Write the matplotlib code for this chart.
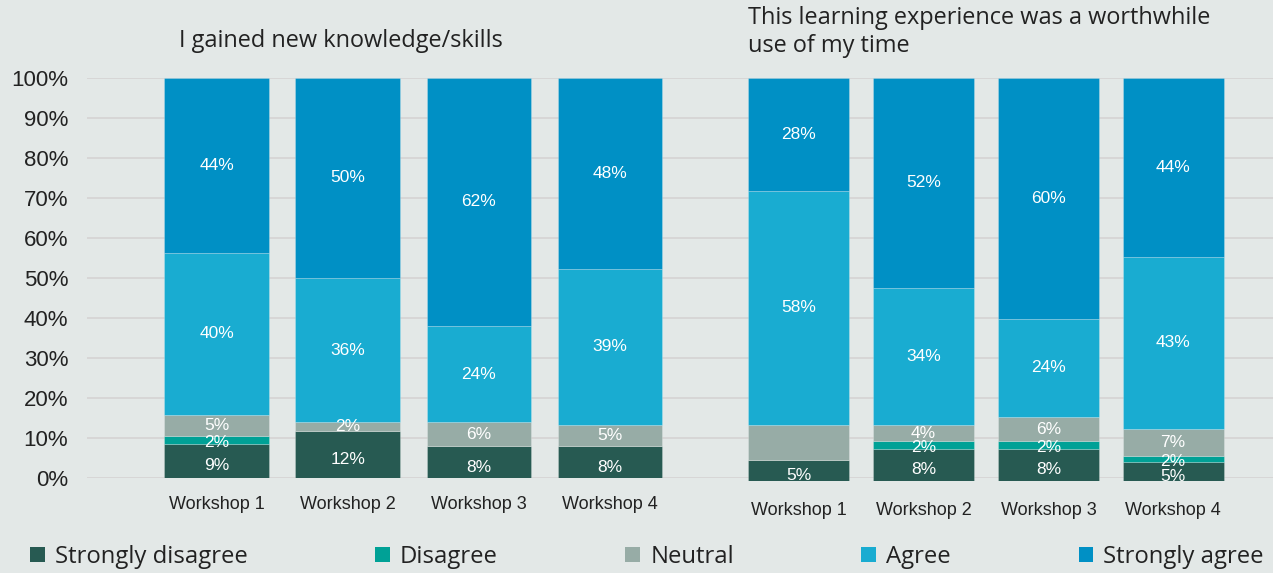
import matplotlib
matplotlib.use("Agg")
import matplotlib.pyplot as plt
from matplotlib.patches import Patch
import numpy as np

# ---------------- data ----------------
workshops = ["Workshop 1", "Workshop 2", "Workshop 3", "Workshop 4"]
series_names = ["Strongly disagree", "Disagree", "Neutral", "Agree", "Strongly agree"]

title_left = "I gained new knowledge/skills"
title_right = "This learning experience was a worthwhile\nuse of my time"

# Panel 1: I gained new knowledge/skills (%)
k_sd = [8.6, 11.8, 7.9, 7.9]
k_d = [2.0, 0.0, 0.0, 0.0]
k_n = [5.2, 2.1, 6.0, 5.4]
k_a = [40.5, 36.1, 24.1, 39.0]
k_sa = [43.7, 50.0, 62.0, 47.7]
k_labels_sd = ["9%", "12%", "8%", "8%"]
k_labels_d = ["2%", "", "", ""]
k_labels_n = ["5%", "2%", "6%", "5%"]
k_labels_a = ["40%", "36%", "24%", "39%"]
k_labels_sa = ["44%", "50%", "62%", "48%"]

# Panel 2: worthwhile use of my time (%)
w_sd = [5.2, 7.9, 7.9, 4.7]
w_d = [0.0, 2.0, 2.0, 1.5]
w_n = [8.7, 4.0, 6.0, 6.7]
w_a = [58.1, 34.0, 24.3, 42.7]
w_sa = [28.0, 52.1, 59.8, 44.4]
w_labels_sd = ["5%", "8%", "8%", "5%"]
w_labels_d = ["", "2%", "2%", "2%"]
w_labels_n = ["", "4%", "6%", "7%"]
w_labels_a = ["58%", "34%", "24%", "43%"]
w_labels_sa = ["28%", "52%", "60%", "44%"]

y_ticks = [0, 10, 20, 30, 40, 50, 60, 70, 80, 90, 100]
y_ticklabels = [f"{t}%" for t in y_ticks]

# ---------------- style ----------------
colors = ["#275a52", "#00a196", "#97aca6", "#19acd1", "#0090c5"]
bg = "#e3e8e7"
grid_c = "#d6d5d5"
text_c = "#222222"
label_offsets = [-3.5, -2.0, 0, 0, 0]  # vertical nudge (points) of in-bar labels per series

W, H = 1273, 573
fig = plt.figure(figsize=(W / 100, H / 100), dpi=100, facecolor=bg)

def fx(px):
    return px / W

def fy(py):
    return 1 - py / H

# background axis with gridlines + y tick labels (left scale: 0 at 478px, 100 at 78px)
ax_bg = fig.add_axes([fx(87), fy(478), fx(W - 87), fy(78) - fy(478)])
ax_bg.set_facecolor("none")
ax_bg.set_ylim(0, 100)
ax_bg.set_xlim(0, 1)
ax_bg.set_yticks(y_ticks)
ax_bg.set_yticklabels(y_ticklabels, fontsize=16, color=text_c, family="Liberation Sans")
ax_bg.tick_params(axis="y", length=0, pad=13.5)
ax_bg.set_xticks([])
for s in ax_bg.spines.values():
    s.set_visible(False)
ax_bg.grid(axis="y", color=grid_c, linewidth=1.3)
ax_bg.set_axisbelow(True)

def draw_panel(ax, series, labels, width):
    x = np.arange(len(workshops))
    bottom = np.zeros(len(workshops))
    for vals, labs, col, off in zip(series, labels, colors, label_offsets):
        vals = np.array(vals)
        bars = ax.bar(x, vals, width, bottom=bottom, color=col,
                      edgecolor=(1, 1, 1, 0.25), linewidth=0.6)
        anns = ax.bar_label(bars, labels=labs, label_type="center", color="white",
                            fontsize=12.5, family="Liberation Sans")
        for a in anns:
            a.xyann = (0, off)
        bottom += vals
    ax.set_ylim(0, 100)
    ax.set_xticks(x)
    ax.set_xticklabels(workshops, fontsize=13, color=text_c, family="Liberation Sans")
    ax.set_yticks([])
    ax.set_facecolor("none")
    for s in ax.spines.values():
        s.set_visible(False)

# left panel
ax1 = fig.add_axes([fx(87), fy(478), fx(690 - 87), fy(78) - fy(478)])
draw_panel(ax1, [k_sd, k_d, k_n, k_a, k_sa],
           [k_labels_sd, k_labels_d, k_labels_n, k_labels_a, k_labels_sa], 0.8)
ax1.set_xlim(-0.99, 3.61)
ax1.tick_params(axis="x", length=0, pad=13)

# right panel (0 at 481px, 100 at 78px)
ax2 = fig.add_axes([fx(690), fy(481), fx(W - 690), fy(78) - fy(481)])
draw_panel(ax2, [w_sd, w_d, w_n, w_a, w_sa],
           [w_labels_sd, w_labels_d, w_labels_n, w_labels_a, w_labels_sa], 0.81)
ax2.set_xlim(-0.872, 3.80)
ax2.tick_params(axis="x", length=0, pad=15)

title_font = dict(family="Open Sans", fontsize=16.9, color=text_c)
fig.text(fx(341), fy(41), title_left, ha="center", va="center", **title_font)
fig.text(fx(748), fy(6), title_right, ha="left", va="top", linespacing=1.22, **title_font)

handles = [Patch(facecolor=c, edgecolor="none") for c in colors]
fig.legend(handles, series_names, loc="center left", bbox_to_anchor=(fx(30), fy(557)),
           ncol=5, frameon=False, prop=dict(family="Open Sans", size=17.2),
           borderaxespad=0, borderpad=0,
           handlelength=0.62, handleheight=0.62, handletextpad=0.42,
           columnspacing=5.34, labelcolor=text_c)

fig.savefig("out.png", dpi=100, facecolor=bg)
